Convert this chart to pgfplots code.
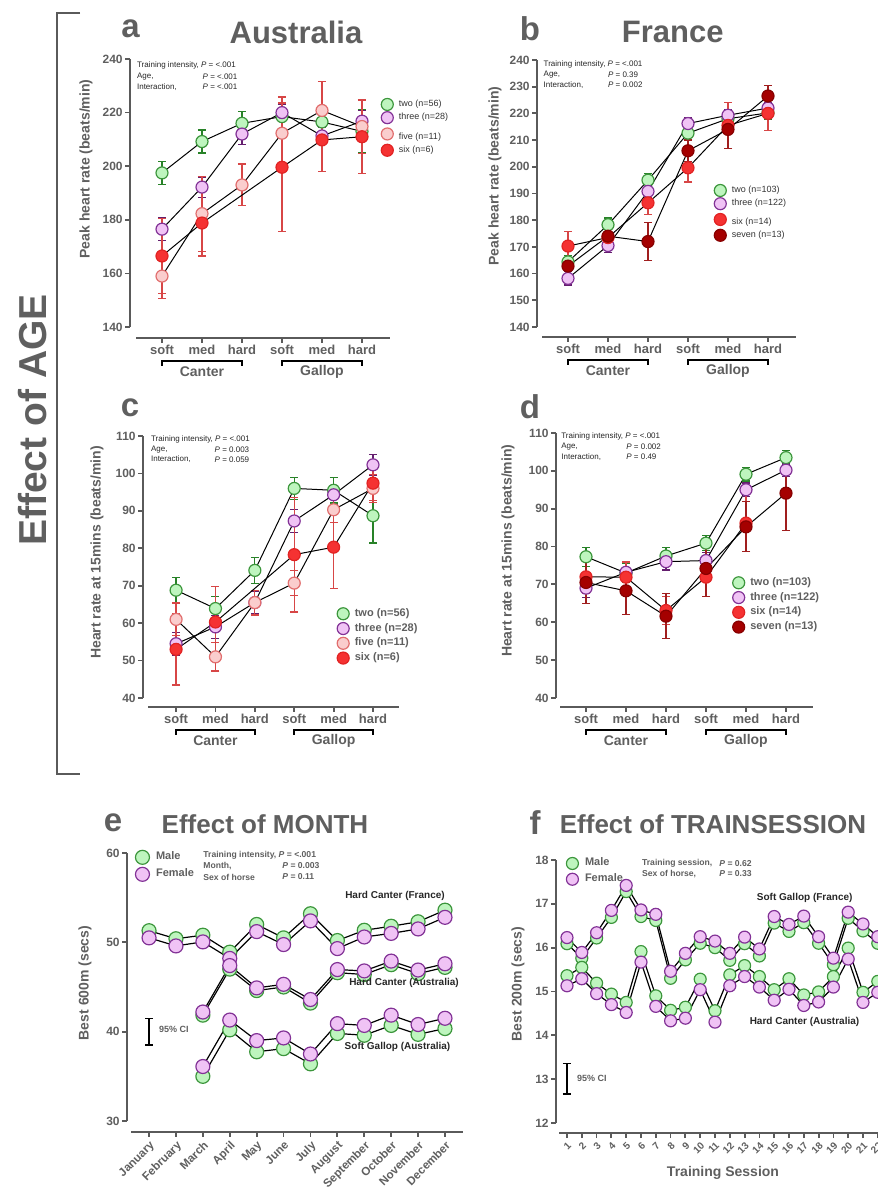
\documentclass[border=0pt]{standalone}
\usepackage{fontspec}
\setmainfont{Liberation Sans}
\usepackage{pgfplots}
\pgfplotsset{compat=1.18}
\definecolor{tg}{RGB}{95,95,95}
\definecolor{ax}{RGB}{90,90,90}
\definecolor{gF}{RGB}{190,245,190}
\definecolor{gE}{RGB}{60,150,60}
\definecolor{pF}{RGB}{240,195,245}
\definecolor{pE}{RGB}{130,50,150}
\definecolor{kF}{RGB}{250,205,205}
\definecolor{kE}{RGB}{225,110,110}
\definecolor{rF}{RGB}{245,50,50}
\definecolor{rE}{RGB}{225,35,35}
\definecolor{dF}{RGB}{165,0,0}
\definecolor{dE}{RGB}{135,0,0}
\definecolor{eG}{RGB}{40,130,40}
\definecolor{eP}{RGB}{100,30,110}
\definecolor{eR}{RGB}{215,70,70}
\definecolor{eD}{RGB}{160,30,30}
\tikzset{axl/.style={ax, line width=1pt}}
\pgfplotsset{
  legend image code/.code={\draw[#1,only marks] plot coordinates {(3pt,0pt)};},
  panel/.style={scale only axis, clip=false, axis line style={draw=none},
    tick align=outside, major tick length=2.5pt, tick style={ax, line width=0.9pt},
    xtick pos=bottom, ytick pos=left,
    yticklabel style={font=\bfseries\fontsize{6}{7}\selectfont, text=tg, inner sep=1pt},
    xticklabel style={font=\bfseries\fontsize{6.5}{7.5}\selectfont, text=tg, inner sep=1pt},
    /pgf/number format/assume math mode=true,
    legend cell align=left,
    legend style={draw=none, fill=none, inner sep=0pt, column sep=2.5pt, row sep=0.6pt, nodes={inner sep=0.3pt}},
  },
  ser/.style n args={3}{color=black, line width=0.5pt, mark=*, mark size=3pt,
    mark options={fill=#1, draw=#2, line width=0.6pt, solid},
    error bars/.cd, y dir=both, y explicit,
    error bar style={#3, line width=0.6pt},
    error mark options={#3, rotate=90, mark size=2pt, line width=0.6pt}},
  ser2/.style n args={3}{color=black, line width=0.6pt, mark=*, mark size=#3,
    mark options={fill=#1, draw=#2, line width=0.6pt, solid}},
}
\newcommand\brkt[4]{%
  \draw[black, line width=0.9pt] ([yshift=-14pt]axis cs:#1,#3) -- ([yshift=-11.5pt]axis cs:#1,#3) -- ([yshift=-11.5pt]axis cs:#2,#3) -- ([yshift=-14pt]axis cs:#2,#3);
  \node[font=\bfseries\fontsize{7}{8}\selectfont, text=tg] at ([yshift=-17pt]axis cs:{(#1+#2)/2},#3) {#4};}
\begin{document}
\begin{tikzpicture}
\useasboundingbox (0,0) rectangle (439pt,598pt);

% ---------------- a: Australia peak
\begin{axis}[panel, at={(65pt,429pt)}, anchor=south west, width=130pt, height=139.5pt,
  xmin=-0.8, xmax=5.7, ymin=135.9, ymax=240, ytick={140,160,...,240},
  xtick={0,...,5}, xticklabels={soft,med,hard,soft,med,hard},
  legend style={at={(0.965,0.86)}, anchor=north west, font=\fontsize{4.5}{5}\selectfont, text=black!80}]
\draw[axl] (axis cs:-0.8,140) -- (axis cs:-0.8,240);
\draw[axl] (axis cs:-0.65,135.9) -- (axis cs:5.7,135.9);
\brkt{0}{2}{135.9}{Canter}
\brkt{3}{5}{135.9}{Gallop}
\addplot[ser={gF}{gE}{eG}] coordinates {(0,197.5) +- (0,4.2) (1,209.2) +- (0,4.3) (2,216) +- (0,4.3) (3,218.5) +- (0,4.5) (4,216.5) +- (0,4.5) (5,213) +- (0,8)};
\addlegendentry{two (n=56)}
\addplot[ser={pF}{pE}{eP}] coordinates {(0,176.5) +- (0,4.2) (1,192.2) +- (0,3.8) (2,212) +- (0,4) (3,220) +- (0,3) (4,211.3) +- (0,3) (5,216.8) +- (0,4)};
\addlegendentry{three (n=28)}
\addplot[ser={kF}{kE}{eR}] coordinates {(0,159) +- (0,8.5) (1,182.3) +- (0,14) (2,193) +- (0,7.8) (3,212.3) +- (0,13.5) (4,220.8) +- (0,10.8) (5,214.8) +- (0,10)};
\addlegendentry{\rule{0pt}{7pt}five (n=11)}
\addplot[ser={rF}{rE}{eR}] coordinates {(0,166.5) +- (0,14) (1,178.8) +- (0,12.3) (3,199.6) +- (0,24) (4,209.8) +- (0,11.8) (5,211) +- (0,13.7)};
\addlegendentry{six (n=6)}
\end{axis}

% ---------------- b: France peak
\begin{axis}[panel, at={(268.5pt,429.5pt)}, anchor=south west, width=129.5pt, height=138.5pt,
  xmin=-0.775, xmax=5.7, ymin=136.25, ymax=240, ytick={140,150,...,240},
  xtick={0,...,5}, xticklabels={soft,med,hard,soft,med,hard},
  legend style={at={(0.683,0.552)}, anchor=north west, font=\fontsize{4.5}{5}\selectfont, text=black!80}]
\draw[axl] (axis cs:-0.775,140) -- (axis cs:-0.775,240);
\draw[axl] (axis cs:-0.65,136.25) -- (axis cs:5.7,136.25);
\brkt{0}{2}{136.25}{Canter}
\brkt{3}{5}{136.25}{Gallop}
\addplot[ser={gF}{gE}{eG}] coordinates {(0,164.4) +- (0,2.5) (1,178.3) +- (0,2.5) (2,195) +- (0,2.5) (3,212.6) +- (0,2.5) (4,218) +- (0,2) (5,220.2) +- (0,2.3)};
\addlegendentry{two (n=103)}
\addplot[ser={pF}{pE}{eP}] coordinates {(0,158.2) +- (0,2.5) (1,170.5) +- (0,2.5) (2,190.8) +- (0,2.5) (3,216.2) +- (0,2.3) (4,219.3) +- (0,2) (5,222) +- (0,2)};
\addlegendentry{three (n=122)}
\addplot[ser={rF}{rE}{eR}] coordinates {(0,170.3) +- (0,5.5) (1,173.5) +- (0,5) (2,186.5) +- (0,4.3) (3,199.6) +- (0,5.3) (4,215.5) +- (0,8.5) (5,220) +- (0,6.5)};
\addlegendentry{\rule{0pt}{6.5pt}six (n=14)}
\addplot[ser={dF}{dE}{eD}] coordinates {(0,162.8) +- (0,3) (1,174) +- (0,5) (2,172) +- (0,7) (3,206) +- (0,4) (4,214) +- (0,7) (5,226.5) +- (0,4)};
\addlegendentry{seven (n=13)}
\end{axis}

% ---------------- c: Australia HR15
\begin{axis}[panel, at={(71.5pt,244.5pt)}, anchor=south west, width=128pt, height=135.5pt,
  xmin=-0.84, xmax=5.66, ymin=37.6, ymax=110, ytick={40,50,...,110},
  xtick={0,...,5}, xticklabels={soft,med,hard,soft,med,hard},
  legend style={at={(0.757,0.368)}, anchor=north west, font=\bfseries\fontsize{5.5}{6}\selectfont, text=tg, row sep=1.3pt}]
\draw[axl] (axis cs:-0.84,40) -- (axis cs:-0.84,110);
\draw[axl] (axis cs:-0.71,37.6) -- (axis cs:5.66,37.6);
\brkt{0}{2}{37.6}{Canter}
\brkt{3}{5}{37.6}{Gallop}
\addplot[ser={gF}{gE}{eG}] coordinates {(0,68.8) +- (0,3.5) (1,63.9) +- (0,3.3) (2,74.1) +- (0,3.4) (3,96) +- (0,3) (4,95.5) +- (0,3.4) (5,88.7) +- (0,7.3)};
\addlegendentry{two (n=56)}
\addplot[ser={pF}{pE}{eP}] coordinates {(0,54.5) +- (0,3) (1,59) +- (0,3) (2,65.5) +- (0,3) (3,87.3) +- (0,3) (4,94.3) +- (0,2.5) (5,102.3) +- (0,2.8)};
\addlegendentry{three (n=28)}
\addplot[ser={kF}{kE}{eR}] coordinates {(0,61) +- (0,4.4) (1,51) +- (0,3.8) (2,65.5) +- (0,3.3) (3,70.7) +- (0,3.4) (4,90.3) +- (0,3.4) (5,96) +- (0,3.7)};
\addlegendentry{five (n=11)}
\addplot[ser={rF}{rE}{eR}] coordinates {(0,53) +- (0,9.5) (1,60.3) +- (0,9.5) (3,78.3) +- (0,15.3) (4,80.3) +- (0,11) (5,97.4) +- (0,4.6)};
\addlegendentry{six (n=6)}
\end{axis}

% ---------------- d: France HR15
\begin{axis}[panel, at={(278pt,244.5pt)}, anchor=south west, width=128.5pt, height=137pt,
  xmin=-0.75, xmax=5.675, ymin=37.6, ymax=110, ytick={40,50,...,110},
  xtick={0,...,5}, xticklabels={soft,med,hard,soft,med,hard},
  legend style={at={(0.686,0.477)}, anchor=north west, font=\bfseries\fontsize{5.5}{6}\selectfont, text=tg, row sep=1.3pt}]
\draw[axl] (axis cs:-0.75,40) -- (axis cs:-0.75,110);
\draw[axl] (axis cs:-0.65,37.6) -- (axis cs:5.675,37.6);
\brkt{0}{2}{37.6}{Canter}
\brkt{3}{5}{37.6}{Gallop}
\addplot[ser={gF}{gE}{eG}] coordinates {(0,77.3) +- (0,2.5) (1,73) +- (0,2.5) (2,77.5) +- (0,2.2) (3,80.9) +- (0,2) (4,99.1) +- (0,1.8) (5,103.5) +- (0,1.8)};
\addlegendentry{two (n=103)}
\addplot[ser={pF}{pE}{eP}] coordinates {(0,69) +- (0,2.5) (1,73.2) +- (0,2.5) (2,76) +- (0,2.2) (3,76.3) +- (0,2.2) (4,95) +- (0,1.8) (5,100.2) +- (0,1.6)};
\addlegendentry{three (n=122)}
\addplot[ser={rF}{rE}{eR}] coordinates {(0,72) +- (0,4.5) (1,71.9) +- (0,4) (2,63.1) +- (0,3.7) (3,71.9) +- (0,5) (4,86.2) +- (0,7.5)};
\addlegendentry{six (n=14)}
\addplot[ser={dF}{dE}{eD}] coordinates {(0,70.5) +- (0,5.5) (1,68.3) +- (0,6.2) (2,61.6) +- (0,6) (3,74.2) +- (0,7.5) (4,85.2) +- (0,6.6) (5,94.1) +- (0,9.9)};
\addlegendentry{seven (n=13)}
\end{axis}

% ---------------- e: month
\begin{axis}[panel, at={(63.5pt,32pt)}, anchor=south west, width=168pt, height=139.5pt,
  xmin=0.18, xmax=12.67, ymin=28.77, ymax=60, ytick={30,40,50,60},
  xtick={1,...,12}, xticklabels={January,February,March,April,May,June,July,August,September,October,November,December},
  xticklabel style={rotate=45, anchor=north east, font=\bfseries\fontsize{5.8}{7}\selectfont},
  legend style={at={(0.024,1.011)}, anchor=north west, font=\bfseries\fontsize{5.5}{6}\selectfont, text=tg, row sep=1.5pt, column sep=3pt}]
\draw[axl] (axis cs:0.18,30) -- (axis cs:0.18,60);
\draw[axl] (axis cs:0.33,28.77) -- (axis cs:12.67,28.77);
\draw[black, line width=0.6pt] (axis cs:1,38.5) -- (axis cs:1,41.5);
\draw[black, line width=0.6pt] ([xshift=-2pt]axis cs:1,38.5) -- ([xshift=2pt]axis cs:1,38.5);
\draw[black, line width=0.6pt] ([xshift=-2pt]axis cs:1,41.5) -- ([xshift=2pt]axis cs:1,41.5);
\node[anchor=west, font=\bfseries\fontsize{4.5}{5}\selectfont, text=tg] at ([xshift=1.5pt]axis cs:1,40.2) {95\% CI};
\addplot[ser2={gF}{gE}{3.5pt}] coordinates {(1,51.3) (2,50.4) (3,50.8) (4,48.9) (5,52.0) (6,50.5) (7,53.2) (8,50.2) (9,51.35) (10,51.8) (11,52.3) (12,53.6)};
\addlegendentry{Male}
\addplot[ser2={pF}{pE}{3.5pt}] coordinates {(1,50.5) (2,49.6) (3,50.05) (4,48.2) (5,51.2) (6,49.75) (7,52.4) (8,49.3) (9,50.6) (10,51.0) (11,51.5) (12,52.8)};
\addlegendentry{Female}
\addplot[ser2={gF}{gE}{3.5pt}, forget plot] coordinates {(3,41.85) (4,47.0) (5,44.6) (6,45.0) (7,43.2) (8,46.6) (9,46.4) (10,47.5) (11,46.5) (12,47.2)};
\addplot[ser2={pF}{pE}{3.5pt}, forget plot] coordinates {(3,42.2) (4,47.4) (5,44.9) (6,45.3) (7,43.6) (8,46.95) (9,46.8) (10,47.9) (11,46.9) (12,47.6)};
\addplot[ser2={gF}{gE}{3.5pt}, forget plot] coordinates {(3,35.0) (4,40.2) (5,37.75) (6,38.1) (7,36.4) (8,39.8) (9,39.6) (10,40.7) (11,39.7) (12,40.35)};
\addplot[ser2={pF}{pE}{3.5pt}, forget plot] coordinates {(3,36.1) (4,41.3) (5,39.0) (6,39.3) (7,37.5) (8,40.9) (9,40.7) (10,41.85) (11,40.8) (12,41.5)};
\end{axis}

% ---------------- f: training session
\begin{axis}[panel, at={(278pt,31.5pt)}, anchor=south west, width=175.7pt, height=136.5pt,
  xmin=0.257, xmax=24, ymin=11.77, ymax=18, ytick={12,13,...,18},
  xtick={1,...,22},
  xticklabel style={rotate=45, anchor=north east, font=\bfseries\fontsize{5}{6}\selectfont},
  legend style={at={(0.0285,1.011)}, anchor=north west, font=\bfseries\fontsize{5.5}{6}\selectfont, text=tg, row sep=1.8pt, column sep=3pt}]
\draw[axl] (axis cs:0.257,12) -- (axis cs:0.257,18);
\draw[axl] (axis cs:0.46,11.77) -- (axis cs:24,11.77);
\draw[black, line width=0.6pt] (axis cs:1,12.66) -- (axis cs:1,13.35);
\draw[black, line width=0.6pt] ([xshift=-2pt]axis cs:1,12.66) -- ([xshift=2pt]axis cs:1,12.66);
\draw[black, line width=0.6pt] ([xshift=-2pt]axis cs:1,13.35) -- ([xshift=2pt]axis cs:1,13.35);
\node[anchor=west, font=\bfseries\fontsize{4.5}{5}\selectfont, text=tg] at ([xshift=1.5pt]axis cs:1,13.02) {95\% CI};
\addplot[ser2={gF}{gE}{3pt}] coordinates {(1,16.09) (2,15.76) (3,16.22) (4,16.69) (5,17.28) (6,16.71) (7,16.62) (8,15.30) (9,15.72) (10,16.10) (11,16.0) (12,15.71) (13,16.09) (14,15.81) (15,16.56) (16,16.37) (17,16.57) (18,16.10) (19,15.61) (20,16.67) (21,16.38) (22,16.10)};
\addlegendentry{Male}
\addplot[ser2={pF}{pE}{3pt}] coordinates {(1,16.23) (2,15.89) (3,16.34) (4,16.85) (5,17.42) (6,16.86) (7,16.76) (8,15.46) (9,15.87) (10,16.25) (11,16.15) (12,15.87) (13,16.24) (14,15.97) (15,16.71) (16,16.53) (17,16.72) (18,16.25) (19,15.76) (20,16.81) (21,16.54) (22,16.25)};
\addlegendentry{Female}
\addplot[ser2={gF}{gE}{3pt}, forget plot] coordinates {(1,15.36) (2,15.55) (3,15.19) (4,14.94) (5,14.75) (6,15.91) (7,14.90) (8,14.57) (9,14.64) (10,15.28) (11,14.56) (12,15.38) (13,15.59) (14,15.34) (15,15.04) (16,15.29) (17,14.92) (18,14.99) (19,15.34) (20,15.99) (21,14.98) (22,15.23)};
\addplot[ser2={pF}{pE}{3pt}, forget plot] coordinates {(1,15.13) (2,15.29) (3,14.95) (4,14.70) (5,14.52) (6,15.67) (7,14.66) (8,14.33) (9,14.39) (10,15.04) (11,14.30) (12,15.13) (13,15.34) (14,15.10) (15,14.80) (16,15.05) (17,14.68) (18,14.76) (19,15.10) (20,15.74) (21,14.75) (22,14.98)};
\end{axis}

% ---------------- texts in pixel coordinates
\begin{scope}[x=0.5pt, y=-0.5pt, yshift=598pt]
\draw[ax, line width=1.2pt] (80,13) -- (57,13) -- (57,774) -- (80,774);
\node[rotate=90, font=\bfseries\fontsize{19.5}{22}\selectfont, text=tg] at (33,420) {Effect of AGE};
\node[font=\bfseries\fontsize{16.5}{18}\selectfont, text=tg] at (130.5,29) {a};
\node[font=\bfseries\fontsize{15.5}{18}\selectfont, text=tg] at (296,32) {Australia};
\node[font=\bfseries\fontsize{16.5}{18}\selectfont, text=tg] at (530,29) {b};
\node[font=\bfseries\fontsize{15.5}{18}\selectfont, text=tg] at (672.7,32) {France};
\node[font=\bfseries\fontsize{16.5}{18}\selectfont, text=tg] at (130,408) {c};
\node[font=\bfseries\fontsize{16.5}{18}\selectfont, text=tg] at (530,407) {d};
\node[font=\bfseries\fontsize{16.5}{18}\selectfont, text=tg] at (113,823) {e};
\node[font=\bfseries\fontsize{13}{15}\selectfont, text=tg] at (265,824) {Effect of MONTH};
\node[font=\bfseries\fontsize{16.5}{18}\selectfont, text=tg] at (535,823) {f};
\node[font=\bfseries\fontsize{13}{15}\selectfont, text=tg] at (713,824) {Effect of TRAINSESSION};
% y labels
\tikzset{ylab/.style={rotate=90, font=\bfseries\fontsize{7}{8}\selectfont, text=tg}}
\node[ylab] at (86,169) {Peak heart rate (beats/min)};
\node[ylab] at (495,176) {Peak heart rate (beats/min)};
\node[ylab] at (97,552.5) {Heart rate at 15mins (beats/min)};
\node[ylab] at (508,550.7) {Heart rate at 15mins (beats/min)};
\node[ylab] at (85,983) {Best 600m (secs)};
\node[ylab] at (518,984) {Best 200m (secs)};
\node[font=\bfseries\fontsize{7}{8}\selectfont, text=tg] at (723,1173) {Training Session};
% p-values
\tikzset{pv/.style={anchor=west, font=\fontsize{4}{5}\selectfont, text=black!85, inner sep=0pt}}
\node[pv] at (136.7,65) {Training intensity, \textit{P} = <.001};
\node[pv] at (136.7,76.7) {Age,}; \node[pv] at (202.3,76.7) {\textit{P} = <.001};
\node[pv] at (136.7,86.7) {Interaction,}; \node[pv] at (202.3,86.7) {\textit{P} = <.001};
\node[pv] at (543.3,64) {Training intensity, \textit{P} = <.001};
\node[pv] at (543.3,74.7) {Age,}; \node[pv] at (607.7,74.7) {\textit{P} = 0.39};
\node[pv] at (543.3,85) {Interaction,}; \node[pv] at (607.7,85) {\textit{P} = 0.002};
\node[pv] at (150.7,439.3) {Training intensity, \textit{P} = <.001};
\node[pv] at (150.7,449.3) {Age,}; \node[pv] at (214.3,449.3) {\textit{P} = 0.003};
\node[pv] at (150.7,459.3) {Interaction,}; \node[pv] at (214.3,459.3) {\textit{P} = 0.059};
\node[pv] at (561,436) {Training intensity, \textit{P} = <.001};
\node[pv] at (561,446.7) {Age,}; \node[pv] at (626,446.7) {\textit{P} = 0.002};
\node[pv] at (561,456.7) {Interaction,}; \node[pv] at (626,456.7) {\textit{P} = 0.49};
\tikzset{pv2/.style={anchor=west, font=\bfseries\fontsize{4.3}{5}\selectfont, text=tg, inner sep=0pt}}
\node[pv2] at (203,855) {Training intensity, \textit{P} = <.001};
\node[pv2] at (203,866) {Month,}; \node[pv2] at (282,866) {\textit{P} = 0.003};
\node[pv2] at (203,877) {Sex of horse}; \node[pv2] at (282,877) {\textit{P} = 0.11};
\node[pv2] at (641.7,863.3) {Training session,}; \node[pv2] at (719,863.3) {\textit{P} = 0.62};
\node[pv2] at (641.7,874) {Sex of horse,}; \node[pv2] at (719,874) {\textit{P} = 0.33};
% series annotations
\tikzset{ann/.style={font=\bfseries\fontsize{5}{6}\selectfont, text=black!85}}
\node[ann] at (395,895.7) {Hard Canter (France)};
\node[ann] at (404,983.3) {Hard Canter (Australia)};
\node[ann] at (397.5,1047.3) {Soft Gallop (Australia)};
\node[ann] at (804.7,897.7) {Soft Gallop (France)};
\node[ann] at (804.5,1022.3) {Hard Canter (Australia)};
\end{scope}
\end{tikzpicture}
\end{document}
